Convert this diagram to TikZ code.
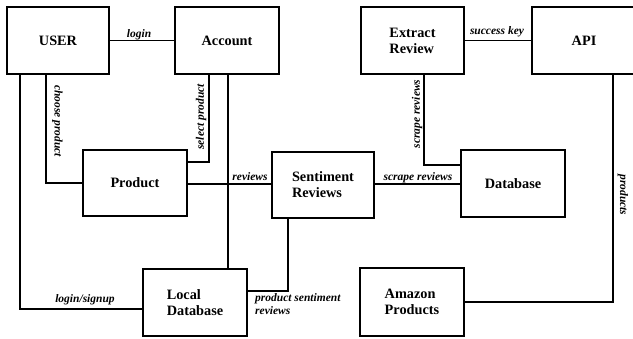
\documentclass[tikz,border=0pt]{standalone}
\usepackage{fontspec}
\setmainfont{Liberation Serif}
\begin{document}
\begin{tikzpicture}[x=1pt,y=-1pt,
  box/.style={draw,line width=2pt,minimum width=104pt,minimum height=67pt,inner sep=0pt,align=left,
    font=\bfseries\fontsize{14.3}{16}\selectfont},
  conn/.style={line width=1.8pt},
  lbl/.style={inner sep=0pt,font=\bfseries\itshape\fontsize{11.5}{13}\selectfont}]
\useasboundingbox (0,0) rectangle (633,338);
\clip (0,0) rectangle (633,338);
\node[box,minimum width=102pt] (user) at (58,40.5) {USER};
\node[box] (account) at (227,40.5) {Account};
\node[box,minimum height=66pt] (product) at (135,183) {Product};
\node[box,minimum width=102pt,minimum height=66pt] (sentiment) at (323,185) {Sentiment\\Reviews};
\node[box] (local) at (195,302.5) {Local\\Database};
\node[box,minimum width=103pt] (extract) at (412.5,40.5) {Extract\\Review};
\node[box] (api) at (584,40.5) {API};
\node[box] (database) at (513,183.5) {Database};
\node[box,minimum height=68pt] (amazon) at (412,302) {Amazon\\Products};

\draw[conn] (user.east) -- (account.west);
\draw[conn] ([xshift=40pt]user.south west) |- (product.west);
\draw[conn] ([xshift=14pt]user.south west) |- ([yshift=-6.5pt]local.west);
\draw[conn] ([xshift=35pt]account.south west) |- ([yshift=21pt]product.east);
\coordinate (a1) at ([xshift=54pt]account.south west);
\draw[conn] (a1) -- (a1 |- local.north);
\draw[conn] ([yshift=-1pt]product.east) -- ([yshift=-1pt]product.east -| sentiment.west);
\draw[conn] ([xshift=17pt]sentiment.south west) |- ([yshift=11.5pt]local.east);
\draw[conn] (extract.east) -- (api.west);
\draw[conn] ([xshift=64pt]extract.south west) |- ([yshift=18.5pt]database.west);
\draw[conn] ([yshift=-0.5pt]database.west -| sentiment.east) -- ([yshift=-0.5pt]database.west);
\draw[conn] ([xshift=82pt]api.south west) |- (amazon.east);

\node[lbl] (l1) at (139,35) {login};
\node[lbl,rotate=-90] (l2) at (57.5,121) {choose product};
\node[lbl,rotate=90] (l3) at (201,117) {select product};
\node[lbl] (l4) at (250,177) {reviews};
\node[lbl] (l5) at (418,178) {scrape reviews};
\node[lbl,rotate=90] (l6) at (417,114) {scrape reviews};
\node[lbl] (l7) at (497,32) {success key};
\node[lbl,rotate=-90] (l8) at (623,195) {products};
\node[lbl] (l9) at (85,300) {login/signup};
\node[lbl,align=left,anchor=north west] (l10) at (255,293) {product sentiment\\reviews};
\end{tikzpicture}
\end{document}
